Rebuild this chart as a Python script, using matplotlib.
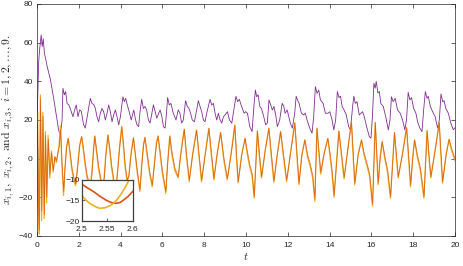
import matplotlib
matplotlib.use('Agg')
import matplotlib.pyplot as plt

plt.rcParams['mathtext.fontset'] = 'cm'
plt.rcParams['font.family'] = ['Liberation Sans', 'DejaVu Sans']

# ---------------- data ----------------
# x_{i,3} (purple)
x3_pts = [
    (0, 3), (0.03, 30), (0.08, 50), (0.13, 57), (0.2, 64), (0.25, 58), (0.3, 62), (0.35, 55),
    (0.48, 48), (0.64, 41), (0.8, 31), (0.93, 22), (1.04, 14.5), (1.12, 12.5), (1.2, 20),
    (1.24, 36.4), (1.31, 33), (1.37, 34.7), (1.44, 28.6), (1.52, 27.8), (1.59, 26), (1.72, 21.7),
    (1.8, 25.2), (1.88, 27.8), (1.96, 21.7), (2.04, 25.2), (2.12, 24.5), (2.23, 17.5), (2.31, 15.8),
    (2.39, 21), (2.47, 26), (2.55, 31.2), (2.63, 28.6), (2.71, 28), (2.79, 26), (2.87, 21.7),
    (2.95, 19.1), (3.03, 23.5), (3.11, 26), (3.19, 24.3), (3.27, 20), (3.35, 23.5), (3.43, 27.8),
    (3.51, 24.3), (3.59, 19.1), (3.67, 22.6), (3.75, 25.2), (3.83, 21.7), (3.91, 17.5), (3.99, 21.7),
    (4.07, 28.6), (4.11, 32), (4.18, 29.5), (4.24, 31.2), (4.34, 27), (4.43, 23.5), (4.51, 20),
    (4.63, 25.2), (4.70, 20.9), (4.78, 17.5), (4.86, 16.6), (4.94, 25.2), (5.01, 30.7), (5.09, 26),
    (5.17, 27), (5.25, 25), (5.33, 20), (5.41, 18.4), (5.49, 23), (5.57, 27.8), (5.65, 24.5),
    (5.73, 20.9), (5.81, 23), (5.89, 25.2), (5.97, 22), (6.05, 16.6), (6.13, 15.8), (6.20, 24),
    (6.25, 31.6), (6.33, 27.8), (6.41, 28.6), (6.52, 23.5), (6.65, 20), (6.76, 25.2), (6.84, 23.5),
    (6.92, 18.4), (7.00, 20), (7.11, 30), (7.19, 27), (7.27, 26), (7.35, 23.5), (7.43, 20),
    (7.53, 19.1), (7.64, 25.2), (7.72, 30), (7.80, 27), (7.88, 24.3), (7.96, 20), (8.04, 19.1),
    (8.12, 23.5), (8.20, 27), (8.28, 30.7), (8.36, 27.8), (8.44, 28.6), (8.52, 23.5), (8.60, 20),
    (8.68, 23.5), (8.76, 20), (8.84, 18.4), (8.92, 21.7), (9.00, 22.6), (9.11, 24.3), (9.21, 20),
    (9.32, 18.4), (9.42, 25.2), (9.52, 32.3), (9.60, 29.5), (9.68, 30.7), (9.79, 27), (9.91, 23.5),
    (9.99, 24.3), (10.07, 23.5), (10.18, 16.6), (10.29, 14), (10.39, 28.6), (10.45, 35.5),
    (10.51, 32), (10.58, 33), (10.66, 27), (10.74, 26), (10.85, 21.7), (10.94, 17.5), (11.02, 18.4),
    (11.10, 30.4), (11.18, 27.8), (11.26, 25.2), (11.34, 27), (11.42, 22.6), (11.50, 16.6),
    (11.61, 20), (11.73, 28.6), (11.81, 27), (11.87, 23.5), (11.97, 25.2), (12.05, 21.7),
    (12.12, 18.4), (12.22, 15.8), (12.33, 23.5), (12.40, 32.3), (12.46, 30.4), (12.54, 28.6),
    (12.65, 23.5), (12.76, 22.6), (12.84, 23.5), (12.92, 20), (13.05, 15.8), (13.16, 13.2),
    (13.24, 22), (13.32, 37.2), (13.40, 33.8), (13.48, 35.5), (13.56, 30.4), (13.69, 28.6),
    (13.80, 23.5), (13.92, 23.5), (14.01, 24.3), (14.12, 20), (14.20, 14.9), (14.29, 20),
    (14.37, 34.7), (14.45, 31.6), (14.52, 32.3), (14.60, 27), (14.69, 25.2), (14.80, 22.6),
    (14.91, 16.6), (15.00, 14.9), (15.10, 27), (15.16, 32.3), (15.23, 28.6), (15.31, 29.5),
    (15.42, 22.6), (15.50, 23.5), (15.58, 24.3), (15.66, 21.7), (15.77, 16.6), (15.90, 11.4),
    (15.98, 10.6), (16.05, 22), (16.12, 39), (16.18, 36.4), (16.23, 40), (16.31, 34), (16.38, 34.7),
    (16.45, 28.6), (16.57, 27), (16.70, 20.9), (16.81, 14.9), (16.89, 20), (16.96, 32),
    (17.04, 29.5), (17.14, 31.2), (17.25, 25.2), (17.38, 23.5), (17.49, 20), (17.60, 14.9),
    (17.68, 20), (17.76, 34.3), (17.84, 30.4), (17.92, 31.6), (18.02, 26), (18.13, 23.5),
    (18.21, 19.1), (18.32, 15.8), (18.42, 14), (18.50, 25.2), (18.58, 34.7), (18.66, 31.2),
    (18.72, 32.3), (18.82, 27), (18.93, 24.3), (19.05, 21.7), (19.17, 15.8), (19.25, 20),
    (19.33, 33.5), (19.41, 29.5), (19.48, 30), (19.56, 26), (19.68, 23.5), (19.80, 18.4),
    (19.92, 14.9), (20.0, 16),
]

# x_{i,1} (dark orange)
x1_pts = [
    (0, 5), (0.03, 18), (0.07, -22), (0.11, -37), (0.17, 31), (0.23, -27), (0.29, 22), (0.35, -29),
    (0.41, 12), (0.47, -20), (0.54, 10), (0.62, -8), (0.70, 3), (0.78, -6), (0.86, 1), (0.93, -1),
    (1.0, 3), (1.06, 6), (1.13, 15), (1.2, -2), (1.28, -17), (1.34, -5), (1.42, 6), (1.5, 10.5),
    (1.58, 4), (1.68, -5), (1.79, -11), (1.86, -13), (1.95, -4), (2.05, 7), (2.14, 11.4), (2.22, 6),
    (2.32, -3), (2.42, -10), (2.5, -11), (2.56, -15), (2.6, -12.8), (2.66, -4), (2.72, 6),
    (2.77, 11.7), (2.85, 5), (2.95, -4), (3.05, -10), (3.15, -14), (3.22, -10), (3.3, 2),
    (3.4, 12.2), (3.48, 6), (3.58, -4), (3.68, -11), (3.78, -15), (3.85, -8), (3.95, 5),
    (4.06, 16.5), (4.14, 8), (4.22, -3), (4.32, -11), (4.4, -9), (4.5, 2), (4.62, 10.8), (4.7, 3),
    (4.8, -6), (4.93, -16.2), (5.02, -3), (5.1, 7), (5.17, 11), (5.26, 4), (5.4, -7), (5.52, -13.6),
    (5.62, -3), (5.72, 8), (5.8, 11.7), (5.88, 5), (6.0, -6), (6.17, -17), (6.25, -3), (6.36, 11.7),
    (6.45, 4), (6.6, -5), (6.76, -9.3), (6.88, 2), (7.05, 15.2), (7.15, 3), (7.29, -11), (7.45, 2),
    (7.64, 14.8), (7.75, 3), (7.88, -11), (8.05, 2), (8.23, 15.7), (8.35, 3), (8.47, -10.2),
    (8.62, 2), (8.79, 13.5), (8.95, 0), (9.11, -10.2), (9.3, 3), (9.47, 17.3), (9.55, 2),
    (9.63, -11.9), (9.8, 2), (9.96, 10.5), (10.06, 4), (10.18, -3), (10.3, -8), (10.40, -19.6),
    (10.55, 14.3), (10.65, 2), (10.75, -9.3), (10.92, 4), (11.1, 15.7), (11.22, 2), (11.34, -11.5),
    (11.5, 2), (11.66, 14), (11.8, 2), (11.95, -11), (12.15, 4), (12.34, 18.5), (12.44, 3),
    (12.54, -12.7), (12.68, 2), (12.82, 9.7), (12.95, 2), (13.08, -3), (13.2, -9), (13.30, -21),
    (13.40, 15.8), (13.5, 3), (13.58, -7), (13.75, 3), (13.92, 10.5), (14.02, 3), (14.12, -6),
    (14.22, -19), (14.35, 0), (14.45, 14.3), (14.58, 2), (14.70, -9.6), (14.88, 5), (15.05, 19),
    (15.13, 3), (15.21, -12.7), (15.37, 2), (15.53, 9.7), (15.65, 3), (15.78, -2), (15.92, -8),
    (16.06, -23.5), (16.19, 18.7), (16.26, 3), (16.33, -12.7), (16.42, 0), (16.52, 8.8), (16.65, 1),
    (16.78, -6), (16.92, -19.6), (17.11, 13.5), (17.2, 2), (17.29, -9.3), (17.5, 3), (17.69, 16),
    (17.78, 2), (17.88, -13.6), (17.98, 0), (18.07, 9.7), (18.2, 2), (18.35, -5), (18.52, -19.6),
    (18.67, 14.5), (18.76, 2), (18.85, -9.3), (19.05, 4), (19.25, 18.6), (19.33, 3), (19.41, -11.9),
    (19.58, 2), (19.72, 10), (19.85, 5), (20.0, 0),
]

# x_{i,2} (yellow-orange)
x2_pts = [
    (0, 8), (0.03, 24), (0.07, -28), (0.11, -39), (0.16, 33), (0.22, -32), (0.28, 24), (0.34, -31),
    (0.40, 14), (0.46, -23), (0.53, 12), (0.61, -10), (0.69, 4), (0.77, -7), (0.85, 1), (0.93, -2),
    (1.0, 3), (1.06, 7), (1.12, 17), (1.19, -3), (1.27, -19), (1.33, -6), (1.41, 6), (1.49, 10.5),
    (1.57, 3), (1.67, -6), (1.78, -12), (1.85, -14), (1.94, -4), (2.04, 7), (2.13, 11.4), (2.21, 5),
    (2.31, -4), (2.41, -11), (2.5, -14), (2.54, -16.8), (2.59, -10.5), (2.65, -3), (2.71, 6),
    (2.76, 11.7), (2.84, 4), (2.94, -5), (3.04, -11), (3.14, -15), (3.21, -10), (3.29, 2),
    (3.39, 12.2), (3.47, 5), (3.57, -5), (3.67, -12), (3.77, -16), (3.84, -8), (3.94, 5),
    (4.05, 16.5), (4.13, 7), (4.21, -4), (4.31, -12), (4.39, -9), (4.49, 2), (4.61, 10.8), (4.69, 3),
    (4.79, -7), (4.92, -17), (5.01, -3), (5.09, 7), (5.16, 11), (5.25, 3), (5.39, -8), (5.51, -14.5),
    (5.61, -3), (5.71, 8), (5.79, 11.7), (5.87, 4), (5.99, -7), (6.16, -18), (6.24, -3), (6.35, 11.7),
    (6.44, 3), (6.59, -6), (6.75, -10), (6.87, 2), (7.04, 15.2), (7.14, 2), (7.28, -12), (7.44, 2),
    (7.63, 14.8), (7.74, 2), (7.87, -12), (8.04, 2), (8.22, 15.7), (8.34, 2), (8.46, -11),
    (8.61, 2), (8.78, 13.5), (8.94, -1), (9.10, -11), (9.29, 3), (9.46, 17.3), (9.54, 1),
    (9.62, -12.5), (9.79, 2), (9.95, 10.5), (10.05, 3), (10.17, -4), (10.29, -9), (10.39, -20.5),
    (10.54, 14.3), (10.64, 1), (10.74, -10), (10.91, 4), (11.09, 15.7), (11.21, 1), (11.33, -12.3),
    (11.49, 2), (11.65, 14), (11.79, 1), (11.94, -12), (12.14, 4), (12.33, 18.5), (12.43, 2),
    (12.53, -13.5), (12.67, 2), (12.81, 9.7), (12.94, 1), (13.07, -4), (13.19, -10), (13.29, -22),
    (13.39, 15.8), (13.49, 2), (13.57, -8), (13.74, 3), (13.91, 10.5), (14.01, 2), (14.11, -7),
    (14.21, -20), (14.34, 0), (14.44, 14.3), (14.57, 1), (14.69, -10.5), (14.87, 5), (15.04, 19),
    (15.12, 2), (15.20, -13.5), (15.36, 2), (15.52, 9.7), (15.64, 2), (15.77, -3), (15.91, -9),
    (16.05, -24.5), (16.18, 18.7), (16.25, 2), (16.32, -13.5), (16.41, 0), (16.51, 8.8), (16.64, 0),
    (16.77, -7), (16.91, -20.5), (17.10, 13.5), (17.19, 1), (17.28, -10), (17.49, 3), (17.68, 16),
    (17.77, 1), (17.87, -14.5), (17.97, 0), (18.06, 9.7), (18.19, 1), (18.34, -6), (18.51, -20.5),
    (18.66, 14.5), (18.75, 1), (18.84, -10), (19.04, 4), (19.24, 18.6), (19.32, 2), (19.40, -12.7),
    (19.57, 2), (19.71, 10), (19.84, 4), (20.0, -1),
]

# other agents visible only at the very start
blue_pts = [(0, 20), (0.02, 8), (0.04, -3), (0.07, -18)]
cyan_pts = [(0, -18), (0.02, -10), (0.04, 5), (0.07, -22)]
green_pts = [(0, -14), (0.03, -16), (0.06, -24)]

# inset (zoom of t in [2.5, 2.6])
inset_x1 = [(2.5, -11.0), (2.512, -12.0), (2.523, -12.8), (2.536, -14.0), (2.549, -15.0),
            (2.558, -15.5), (2.567, -15.7), (2.575, -15.5), (2.582, -14.9), (2.591, -14.0),
            (2.6, -12.8)]
inset_x2 = [(2.5, -13.8), (2.508, -14.9), (2.516, -15.7), (2.525, -16.4), (2.535, -16.9),
            (2.545, -16.8), (2.555, -16.3), (2.562, -15.7), (2.570, -14.7), (2.578, -13.3),
            (2.586, -11.6), (2.593, -10.0)]

main_xticks = [0, 2, 4, 6, 8, 10, 12, 14, 16, 18, 20]
main_yticks = [-40, -20, 0, 20, 40, 60, 80]
inset_xticks = [2.5, 2.55, 2.6]
inset_xlabels = ['2.5', '2.55', '2.6']
inset_yticks = [-20, -15, -10]

C_PURPLE = '#7E2F8E'
C_ORANGE = '#D95319'
C_YELLOW = '#EDB120'
C_AX = '#262626'


def split(pts):
    return [p[0] for p in pts], [p[1] for p in pts]


fig = plt.figure(figsize=(4.63, 2.66), dpi=100)
ax = fig.add_axes([37 / 463, 1 - 236 / 266, 418 / 463, 232 / 266])

for pts, col in [(blue_pts, '#0072BD'), (cyan_pts, '#4DBEEE'), (green_pts, '#77AC30')]:
    t, v = split(pts)
    ax.plot(t, v, color=col, lw=0.6)

t, v = split(x3_pts)
ax.plot(t, v, color=C_PURPLE, lw=0.6)
t, v = split(x2_pts)
ax.plot(t, v, color=C_YELLOW, lw=0.9)
t, v = split(x1_pts)
ax.plot(t, v, color=C_ORANGE, lw=0.55, alpha=0.85)

ax.set_xlim(0, 20)
ax.set_ylim(-40, 80)
ax.set_xticks(main_xticks)
ax.set_yticks(main_yticks)
ax.tick_params(direction='in', length=3, width=0.5, top=True, right=True,
               labelsize=6, colors=C_AX)
ax.tick_params(axis='x', pad=4.5)
ax.tick_params(axis='y', pad=3)
for s in ax.spines.values():
    s.set_linewidth(0.5)
    s.set_color(C_AX)
ax.set_xlabel(r'$t$', fontsize=8, labelpad=1, color=C_AX)
ax.set_ylabel(r'$x_{i,1},\ x_{i,2},\ \mathrm{and}\ x_{i,3},\ i=1,2,\ldots,9.$',
              fontsize=8.5, labelpad=2, color=C_AX)

# inset
axi = fig.add_axes([81.7 / 463, 1 - 221 / 266, 51 / 463, 41 / 266])
t, v = split(inset_x1)
axi.plot(t, v, color=C_ORANGE, lw=1.2)
t, v = split(inset_x2)
axi.plot(t, v, color=C_YELLOW, lw=1.2)
axi.set_xlim(2.5, 2.6)
axi.set_ylim(-20, -10)
axi.set_xticks(inset_xticks)
axi.set_xticklabels(inset_xlabels)
axi.set_yticks(inset_yticks)
axi.tick_params(direction='in', length=2, width=0.5, labelsize=6, colors=C_AX)
axi.tick_params(axis='x', pad=3.5)
axi.tick_params(axis='y', pad=1.5)
for s in axi.spines.values():
    s.set_linewidth(0.9)
    s.set_color('#404040')

fig.savefig('out.png', dpi=100)
